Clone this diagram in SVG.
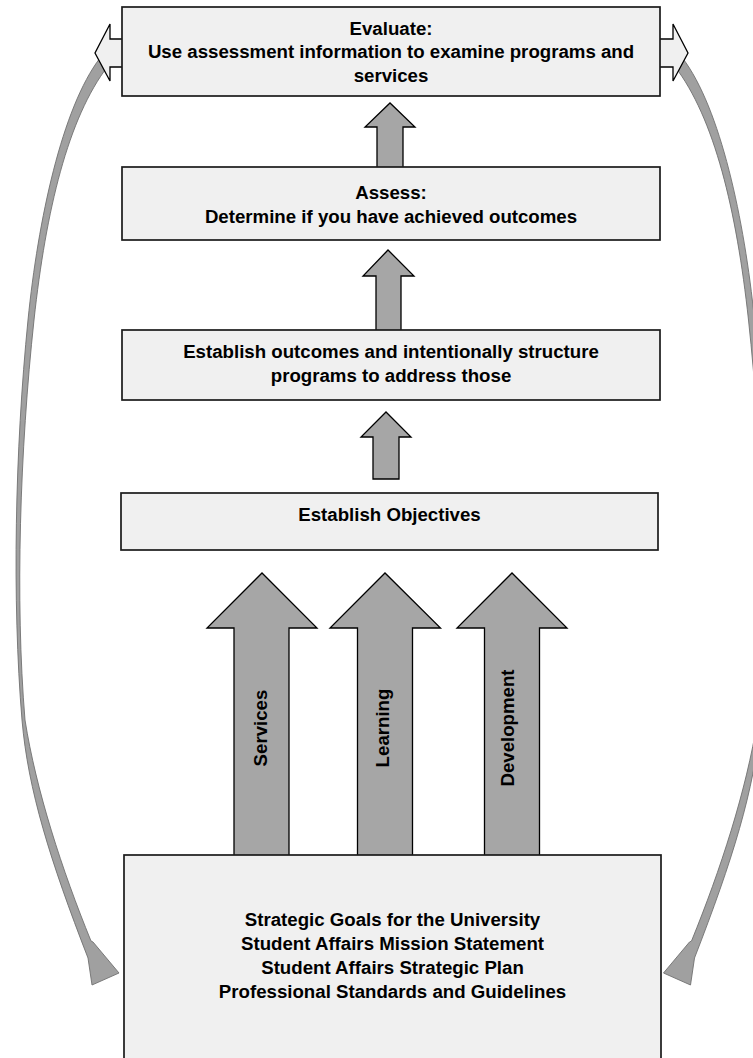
<svg xmlns="http://www.w3.org/2000/svg" xmlns:xlink="http://www.w3.org/1999/xlink" width="753" height="1058" viewBox="0 0 753 1058">
<style>
.box{fill:#f0f0f0;stroke:#1a1a1a;stroke-width:1.7}
.blk{fill:#a6a6a6;stroke:#000;stroke-width:1.3;stroke-linejoin:miter}
.out{fill:#f0f0f0;stroke:#000;stroke-width:1.3}
.crv{fill:#a0a0a0;stroke:#707070;stroke-width:0.9}
text{font-family:"Liberation Sans",Arial,Helvetica,sans-serif;font-weight:bold;font-size:18.67px;fill:#000;text-anchor:middle}
</style>
<defs>
<path id="curveL" class="crv" d="M100,58 C62,108 38,220 28,320 C15,450 12,600 22,720 C28,790 50,860 88,958 L92,985 L119,973 L93,942 L91,941 C62,870 36,790 25,720 C15,600 20,450 34,320 C46,210 68,118 108,66 Z"/>
</defs>
<rect x="0" y="0" width="753" height="1058" fill="#ffffff"/>
<g id="connectors">
  <use href="#curveL" xlink:href="#curveL"/>
  <use href="#curveL" xlink:href="#curveL" transform="translate(782.5,0) scale(-1,1)"/>
  <path class="out" d="M122,39 L110,39 L110,24 L95,53 L110,81 L110,67 L122,67"/>
  <path class="out" d="M660,39 L673,39 L673,24 L688,53 L673,81 L673,67 L660,67"/>
  <path class="blk" d="M377,170 L377,127 L365,127 L390,103 L415,127 L403,127 L403,170 Z"/>
  <path class="blk" d="M376,331 L376,276 L363,276 L388,250 L414,276 L401,276 L401,331 Z"/>
  <path class="blk" d="M373,479 L373,437 L361,437 L386,412 L411,437 L399,437 L399,479 Z"/>
  <path class="blk" d="M234,856 L234,628 L207,628 L262,573 L317,628 L289,628 L289,856 Z"/>
  <path class="blk" d="M357.5,856 L357.5,628 L330,628 L385,573 L440.5,628 L412.5,628 L412.5,856 Z"/>
  <path class="blk" d="M484.5,856 L484.5,628 L457,628 L512,573 L567,628 L539.5,628 L539.5,856 Z"/>
  <text transform="translate(267,728) rotate(-90)">Services</text>
  <text transform="translate(389,728) rotate(-90)">Learning</text>
  <text transform="translate(514,728) rotate(-90)">Development</text>
</g>
<g id="evaluate">
  <rect class="box" x="122" y="7" width="538" height="89"/>
  <text x="391" y="35">Evaluate:</text>
  <text x="391" y="58.3">Use assessment information to examine programs and</text>
  <text x="391" y="81.7">services</text>
</g>
<g id="assess">
  <rect class="box" x="122" y="167" width="538" height="73"/>
  <text x="391" y="199">Assess:</text>
  <text x="391" y="222.5">Determine if you have achieved outcomes</text>
</g>
<g id="outcomes">
  <rect class="box" x="122" y="330" width="538" height="70"/>
  <text x="391" y="358">Establish outcomes and intentionally structure</text>
  <text x="391" y="381.5">programs to address those</text>
</g>
<g id="objectives">
  <rect class="box" x="121" y="493" width="537" height="57"/>
  <text x="389.5" y="520.5">Establish Objectives</text>
</g>
<g id="foundation">
  <rect class="box" x="124" y="855" width="537" height="215"/>
  <text x="392.5" y="926">Strategic Goals for the University</text>
  <text x="392.5" y="950">Student Affairs Mission Statement</text>
  <text x="392.5" y="974">Student Affairs Strategic Plan</text>
  <text x="392.5" y="998">Professional Standards and Guidelines</text>
</g>
</svg>
